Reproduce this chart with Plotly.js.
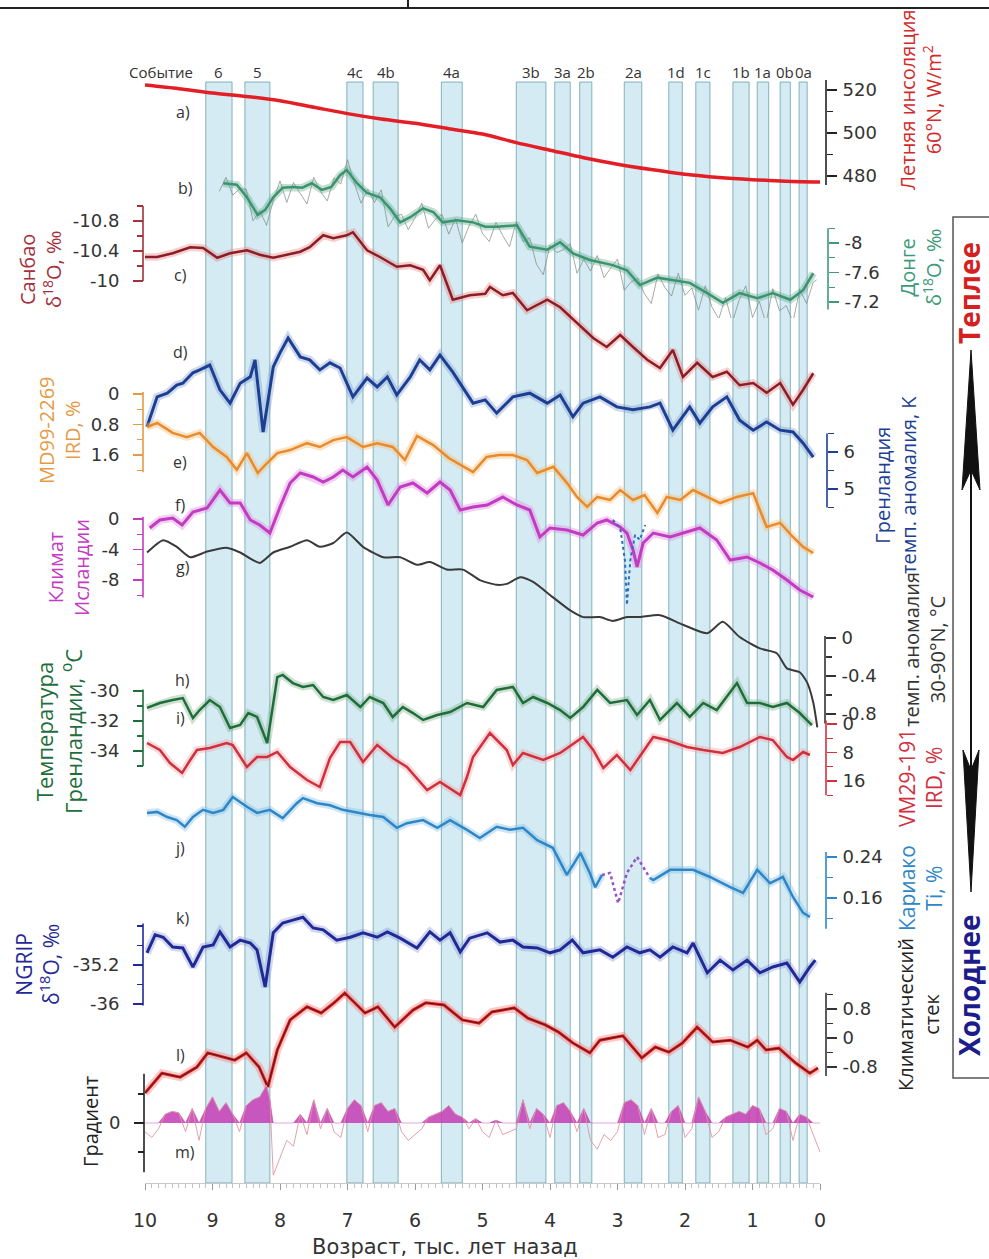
<!DOCTYPE html>
<html><head><meta charset="utf-8">
<script src="https://cdn.plot.ly/plotly-3.0.1.min.js"></script>
<style>html,body{margin:0;padding:0;background:#fff;}#chart{width:989px;height:1259px;}</style>
</head><body><div id="chart"></div>
<script>
// ---------------- DATA ----------------
const eventLabels = ['6','5','4c','4b','4a','3b','3a','2b','2a','1d','1c','1b','1a','0b','0a'];
const eventStart  = [9.10,8.52,7.01,6.62,5.61,4.50,3.93,3.56,2.90,2.24,1.84,1.29,0.93,0.59,0.31];
const eventEnd    = [8.71,8.15,6.77,6.25,5.30,4.06,3.70,3.38,2.64,2.04,1.63,1.05,0.76,0.44,0.19];

const ageA = [10,9.5,9,8.5,8,7.5,7,6.5,6,5.5,5,4.5,4,3.5,3,2.5,2,1.5,1,0.5,0];
const insolation = [522.3,520.6,518.6,517,515,512,509,506.5,504.5,502,499.5,495.5,492,488.5,485.5,483,480.8,479.3,478.3,477.6,477.2];

const ageB = [8.84,8.64,8.49,8.33,8.22,8.10,7.96,7.81,7.67,7.53,7.38,7.24,7.11,7.01,6.86,6.71,6.52,6.37,6.22,6.07,5.88,5.73,5.59,5.38,5.14,4.96,4.79,4.49,4.30,4.04,3.85,3.66,3.41,3.07,2.86,2.67,2.41,2.18,1.93,1.67,1.44,1.19,0.93,0.70,0.44,0.25,0.10];
const dongge = [-8.81,-8.79,-8.62,-8.38,-8.45,-8.62,-8.75,-8.76,-8.75,-8.81,-8.72,-8.76,-8.92,-8.99,-8.81,-8.68,-8.62,-8.47,-8.28,-8.35,-8.47,-8.42,-8.28,-8.31,-8.28,-8.22,-8.22,-8.24,-7.95,-7.91,-8.01,-7.86,-7.77,-7.70,-7.63,-7.43,-7.53,-7.50,-7.46,-7.32,-7.19,-7.32,-7.25,-7.32,-7.23,-7.36,-7.59];
const ageBraw = [8.9,8.8,8.7,8.6,8.5,8.4,8.3,8.2,8.1,8.0,7.9,7.8,7.7,7.6,7.5,7.4,7.3,7.2,7.1,7.0,6.9,6.8,6.7,6.6,6.5,6.4,6.3,6.2,6.1,6.0,5.9,5.8,5.7,5.6,5.5,5.4,5.3,5.2,5.1,5.0,4.9,4.8,4.7,4.6,4.5,4.4,4.3,4.2,4.1,4.0,3.9,3.8,3.7,3.6,3.5,3.4,3.3,3.2,3.1,3.0,2.9,2.8,2.7,2.6,2.5,2.4,2.3,2.2,2.1,2.0,1.9,1.8,1.7,1.6,1.5,1.4,1.3,1.2,1.1,1.0,0.9,0.8,0.7,0.6,0.5,0.4,0.3,0.2,0.1,0.05];
const donggeRaw = [-8.70,-8.89,-8.65,-8.73,-8.73,-8.30,-8.44,-8.24,-8.57,-8.84,-8.55,-8.82,-8.67,-8.53,-8.89,-8.70,-8.57,-8.88,-8.80,-9.13,-8.81,-8.54,-8.73,-8.55,-8.72,-8.22,-8.36,-8.39,-8.18,-8.34,-8.54,-8.20,-8.32,-8.39,-8.12,-8.33,-8.00,-8.23,-8.39,-8.13,-8.02,-8.28,-8.10,-7.95,-8.29,-8.02,-8.07,-7.71,-7.57,-7.97,-7.87,-7.91,-7.99,-7.59,-7.78,-7.62,-7.83,-7.53,-7.66,-7.78,-7.36,-7.47,-7.52,-7.31,-7.18,-7.58,-7.40,-7.28,-7.59,-7.29,-7.39,-7.09,-7.42,-7.13,-6.97,-7.26,-6.92,-7.22,-7.42,-6.99,-7.21,-6.91,-7.38,-7.08,-7.15,-6.93,-7.37,-7.18,-7.47,-7.50];

const ageC = [10.0,9.82,9.59,9.33,9.14,8.93,8.74,8.49,8.30,8.10,7.90,7.70,7.56,7.36,7.21,7.01,6.92,6.71,6.52,6.27,6.07,5.88,5.78,5.63,5.44,5.19,4.96,4.89,4.70,4.55,4.34,4.04,3.85,3.60,3.36,3.16,2.96,2.77,2.56,2.37,2.18,2.03,1.82,1.59,1.38,1.19,0.99,0.79,0.59,0.40,0.25,0.10];
const sanbao = [-10.32,-10.32,-10.37,-10.45,-10.44,-10.31,-10.37,-10.41,-10.35,-10.31,-10.35,-10.39,-10.45,-10.61,-10.57,-10.61,-10.65,-10.41,-10.32,-10.19,-10.21,-10.15,-10.01,-10.21,-9.75,-9.81,-9.83,-9.92,-9.81,-9.84,-9.61,-9.75,-9.65,-9.44,-9.24,-9.12,-9.28,-9.12,-8.95,-8.84,-9.08,-8.72,-8.91,-8.72,-8.79,-8.61,-8.64,-8.51,-8.64,-8.35,-8.55,-8.77];

const ageD = [9.97,9.82,9.67,9.53,9.44,9.29,9.19,9.04,8.89,8.74,8.59,8.44,8.37,8.25,8.10,8.00,7.88,7.70,7.56,7.41,7.26,7.11,6.92,6.71,6.56,6.41,6.27,6.07,5.93,5.78,5.63,5.44,5.14,4.96,4.79,4.55,4.30,4.04,3.85,3.66,3.51,3.26,3.01,2.77,2.52,2.37,2.18,1.93,1.78,1.59,1.38,1.19,0.99,0.79,0.59,0.40,0.25,0.10];
const greenlandK = [6.68,7.49,7.59,7.81,7.86,8.14,8.22,8.35,7.68,7.32,7.86,8.03,8.49,6.54,8.30,8.68,9.08,8.57,8.49,8.22,8.41,8.27,7.49,8.00,7.76,8.03,7.54,8.03,8.49,8.22,8.62,8.16,7.32,7.41,7.05,7.49,7.59,7.32,7.54,6.95,7.32,7.49,7.22,7.14,7.22,7.32,6.59,7.22,6.78,7.22,7.49,6.86,6.59,6.81,6.59,6.54,6.24,5.86];

const ageE = [9.97,9.82,9.59,9.38,9.19,8.99,8.79,8.64,8.49,8.33,8.19,8.04,7.85,7.60,7.41,7.21,7.01,6.77,6.56,6.33,6.15,5.97,5.73,5.50,5.14,4.94,4.75,4.55,4.34,4.19,3.95,3.75,3.60,3.45,3.30,3.11,2.96,2.77,2.60,2.41,2.27,2.07,1.88,1.67,1.48,1.23,0.99,0.79,0.59,0.40,0.25,0.10];
const ird2269 = [0.87,0.76,1.02,1.13,1.02,1.39,1.65,1.99,1.55,2.07,1.81,1.55,1.47,1.29,1.39,1.21,1.13,1.39,1.29,1.39,1.73,1.10,1.34,1.68,2.05,1.65,1.60,1.60,1.73,2.07,1.91,2.33,2.70,2.96,2.70,2.78,2.52,2.78,2.65,3.12,2.70,2.78,2.52,2.70,2.86,2.70,2.60,3.49,3.38,3.75,4.01,4.17];

const ageF = [9.93,9.78,9.59,9.45,9.29,9.08,8.89,8.74,8.59,8.44,8.30,8.15,8.00,7.85,7.70,7.51,7.36,7.21,7.07,6.92,6.71,6.56,6.40,6.22,6.03,5.82,5.63,5.48,5.33,5.14,4.93,4.70,4.49,4.30,4.15,4.00,3.75,3.51,3.30,3.16,2.96,2.86,2.77,2.71,2.62,2.47,2.22,1.97,1.78,1.53,1.33,1.08,0.89,0.70,0.49,0.30,0.10];
const iceland = [-1.18,-0.13,0.13,-0.79,0.92,1.44,3.80,2.10,2.10,-0.13,-0.79,-1.84,1.57,4.72,6.03,5.51,4.85,5.51,6.42,5.51,6.82,5.11,1.84,4.20,4.72,3.41,4.85,3.80,1.18,1.57,1.84,2.88,1.84,1.18,-2.36,-1.18,-1.44,-2.10,-0.52,-0.13,-1.05,-1.84,-4.06,-6.29,-3.15,-1.84,-2.36,-1.70,-1.18,-2.75,-5.38,-4.98,-5.77,-6.69,-8.00,-9.31,-10.23];
const ageF2 = [3.07,2.96,2.89,2.86,2.81,2.74,2.67,2.59];
const iceland2 = [-0.13,-1.18,-5.38,-11.27,-5.38,-2.10,-2.75,-0.79];

const ageG = [9.97,9.73,9.53,9.33,9.08,8.79,8.59,8.30,8.10,7.85,7.60,7.41,7.21,7.01,6.77,6.47,6.22,5.97,5.78,5.53,5.29,5.04,4.79,4.64,4.44,4.25,3.96,3.70,3.51,3.26,3.07,2.86,2.67,2.37,2.03,1.67,1.44,1.19,0.89,0.64,0.49,0.30,0.19,0.10,0.04];
const nhTemp = [0.90,1.03,0.96,0.85,0.91,0.95,0.90,0.79,0.90,0.96,1.03,0.96,1.00,1.11,0.96,0.85,0.85,0.77,0.80,0.72,0.72,0.61,0.56,0.57,0.64,0.59,0.43,0.29,0.22,0.22,0.18,0.22,0.22,0.24,0.14,0.05,0.17,0.01,-0.11,-0.16,-0.32,-0.36,-0.47,-0.68,-0.94];

const ageH = [9.97,9.78,9.59,9.44,9.29,9.19,9.04,8.89,8.74,8.59,8.47,8.34,8.19,8.04,7.96,7.81,7.66,7.51,7.36,7.21,7.01,6.81,6.67,6.47,6.33,6.18,6.03,5.88,5.67,5.48,5.23,4.99,4.79,4.55,4.40,4.25,4.04,3.85,3.70,3.51,3.30,3.11,2.86,2.71,2.52,2.37,2.12,1.93,1.73,1.53,1.23,1.08,0.89,0.70,0.49,0.30,0.12];
const greenlandT = [-31.13,-30.80,-30.60,-30.47,-31.80,-31.27,-30.60,-31.07,-32.47,-32.27,-31.47,-31.73,-33.47,-29.07,-28.93,-29.47,-29.73,-29.60,-30.40,-30.60,-30.27,-31.07,-30.40,-30.80,-31.73,-31.07,-31.47,-31.93,-31.60,-31.40,-30.80,-31.07,-29.93,-29.73,-30.80,-30.40,-30.80,-31.27,-31.80,-31.07,-29.93,-30.80,-30.60,-31.60,-30.60,-31.93,-30.80,-31.73,-30.80,-31.27,-29.47,-30.80,-30.80,-31.07,-30.80,-31.47,-32.27];

const ageI = [9.97,9.78,9.63,9.45,9.33,9.23,9.04,8.79,8.70,8.49,8.34,8.19,8.04,7.85,7.60,7.41,7.26,7.11,6.96,6.77,6.56,6.33,6.12,5.82,5.63,5.33,5.23,5.14,4.89,4.64,4.55,4.40,4.10,3.85,3.51,3.36,3.21,3.01,2.81,2.47,2.27,1.97,1.73,1.44,1.19,0.89,0.70,0.49,0.40,0.25,0.15];
const ird191 = [5.33,7.30,10.95,13.75,10.11,7.30,6.74,5.33,5.89,12.07,9.26,9.26,7.86,12.07,15.72,17.68,9.54,5.05,5.05,10.67,5.89,9.54,12.07,18.53,16.28,19.93,14.88,9.26,2.53,7.30,11.51,8.14,10.11,8.14,3.65,7.30,12.35,8.70,12.91,3.65,4.49,6.46,7.30,8.14,6.46,3.65,4.49,9.26,10.11,7.86,8.70];

const ageJ = [9.97,9.82,9.67,9.53,9.41,9.29,9.14,8.99,8.84,8.70,8.49,8.34,8.15,7.96,7.75,7.66,7.45,7.26,7.07,6.86,6.67,6.47,6.27,6.12,5.88,5.67,5.48,5.23,5.04,4.79,4.59,4.40,4.19,3.96,3.75,3.66,3.55,3.41,3.33,3.23];
const cariaco = [0.326,0.328,0.318,0.312,0.299,0.318,0.332,0.326,0.332,0.357,0.338,0.326,0.332,0.316,0.345,0.355,0.345,0.341,0.332,0.326,0.322,0.318,0.297,0.306,0.312,0.297,0.312,0.293,0.277,0.299,0.293,0.297,0.273,0.258,0.205,0.224,0.248,0.209,0.181,0.205];
const ageJp = [3.23,3.11,2.99,2.86,2.71,2.62,2.52];
const cariacoAlt = [0.205,0.209,0.150,0.209,0.240,0.220,0.199];
const ageJ2 = [2.52,2.47,2.22,1.88,1.63,1.33,1.14,0.93,0.74,0.55,0.40,0.25,0.15];
const cariaco2 = [0.199,0.195,0.215,0.215,0.201,0.181,0.170,0.215,0.189,0.201,0.162,0.131,0.123];

const ageK = [9.97,9.85,9.73,9.59,9.44,9.29,9.14,8.99,8.89,8.74,8.59,8.44,8.34,8.22,8.10,7.96,7.81,7.66,7.51,7.36,7.16,6.96,6.77,6.56,6.41,6.22,5.97,5.78,5.63,5.48,5.33,5.19,4.93,4.74,4.55,4.40,4.19,4.00,3.85,3.67,3.51,3.26,3.07,2.86,2.67,2.52,2.37,2.18,1.97,1.88,1.67,1.48,1.29,1.08,0.89,0.70,0.49,0.30,0.15,0.07];
const ngrip = [-34.95,-34.58,-34.63,-34.83,-34.85,-35.24,-34.83,-34.79,-34.52,-34.83,-34.69,-34.75,-34.89,-35.65,-34.54,-34.34,-34.28,-34.22,-34.44,-34.48,-34.69,-34.63,-34.54,-34.63,-34.52,-34.65,-34.85,-34.52,-34.69,-34.54,-34.93,-34.65,-34.54,-34.73,-34.69,-34.83,-34.85,-34.95,-34.89,-34.69,-34.95,-34.89,-35.04,-34.83,-34.95,-34.89,-35.04,-34.83,-34.95,-34.75,-35.36,-35.10,-35.30,-35.10,-35.36,-35.24,-35.16,-35.55,-35.24,-35.10];

const ageL = [10.0,9.75,9.48,9.23,9.07,8.83,8.67,8.50,8.31,8.18,8.04,7.85,7.60,7.39,7.20,7.04,6.74,6.55,6.30,6.03,5.84,5.57,5.30,5.05,4.86,4.53,4.33,4.07,3.88,3.66,3.41,3.26,2.92,2.64,2.44,2.24,2.04,1.82,1.59,1.33,1.07,0.93,0.80,0.61,0.36,0.15,0.03];
const climStack = [-1.52,-0.97,-1.08,-0.80,-0.41,-0.52,-0.61,-0.41,-0.80,-1.35,-0.33,0.50,0.86,0.69,0.97,1.24,0.69,0.86,0.30,0.77,0.97,0.91,0.50,0.41,0.72,0.83,0.55,0.36,0.17,-0.14,-0.41,-0.06,0.06,-0.55,-0.25,-0.39,-0.14,0.30,-0.11,-0.06,-0.25,-0.06,-0.33,-0.28,-0.69,-0.97,-0.83];

const ageM = [10.0,9.9,9.8,9.7,9.6,9.5,9.4,9.3,9.2,9.1,9.0,8.9,8.8,8.7,8.6,8.5,8.4,8.3,8.2,8.15,8.1,8.0,7.9,7.8,7.7,7.6,7.5,7.4,7.3,7.2,7.1,7.0,6.9,6.8,6.7,6.6,6.5,6.4,6.3,6.2,6.1,6.0,5.9,5.8,5.7,5.6,5.5,5.4,5.3,5.2,5.1,5.0,4.9,4.8,4.7,4.6,4.5,4.4,4.3,4.2,4.1,4.0,3.9,3.8,3.7,3.6,3.5,3.4,3.3,3.2,3.1,3.0,2.9,2.8,2.7,2.6,2.5,2.4,2.3,2.2,2.1,2.0,1.9,1.8,1.7,1.6,1.5,1.4,1.3,1.2,1.1,1.0,0.9,0.8,0.7,0.6,0.5,0.4,0.3,0.2,0.1,0.0];
const gradient = [-0.3,-0.5,-0.2,0.3,0.4,0.35,-0.3,0.5,-0.6,0.5,0.9,0.4,0.7,0.3,-0.3,0.6,0.8,0.9,1.3,0.8,-1.8,-1.2,-0.6,-0.8,0.3,-0.4,0.8,-0.2,0.5,-0.3,-0.5,0.5,0.8,0.6,-0.3,0.6,0.7,0.4,0.5,-0.3,-0.6,-0.4,-0.2,0.2,0.3,0.4,0.6,0.3,0.2,-0.2,0.15,-0.3,-0.5,0.1,-0.4,-0.3,-0.2,0.8,-0.2,0.5,0.3,-0.5,0.6,0.7,0.4,-0.3,0.5,-0.6,-0.9,-0.4,-0.6,-0.3,0.7,0.8,0.6,-0.4,0.5,-0.5,-0.4,0.4,0.6,-0.5,-0.2,0.9,0.4,-0.5,-0.3,0.2,0.3,0.4,0.3,0.6,0.5,-0.4,-0.2,0.5,0.4,-0.6,0.3,0.2,-0.4,-1.0];

const xTickVals = [10,9,8,7,6,5,4,3,2,1,0];

// ---------------- LAYOUT HELPERS ----------------
const W = 989, H = 1259;
const px = x => x / W;
const py = y => 1 - y / H;
const FONT = 'Open Sans, Noto Sans, sans-serif';
const WIDE = 'DejaVu Sans, sans-serif';

const axDefs = [
  {k:'',   p:[90,520,176,480],      dom:[72,190],   side:'right', x:826, c:'#222',    major:[520,500,480], minor:[510,490], line:[475.8,524.6]},
  {k:'2',  p:[243,-8,302,-7.2],     dom:[150,318],  side:'right', x:828, c:'#3d9a78', major:[-8,-7.6,-7.2], minor:[-8.2,-7.8,-7.4], line:[-8.2,-7.1]},
  {k:'3',  p:[221,-10.8,281,-10],   dom:[200,415],  side:'left',  x:143, c:'#a3303a', major:[-10.8,-10.4,-10], minor:[-11,-10.6,-10.2], line:[-11,-10]},
  {k:'4',  p:[452,6,489,5],         dom:[320,512],  side:'right', x:827, c:'#1c3f94', major:[6,5], minor:[6.5,5.5,4.5], line:[6.5,4.5]},
  {k:'5',  p:[394,0,455,1.6],       dom:[385,560],  side:'left',  x:143, c:'#e59a45', major:[0,0.8,1.6], minor:[0.4,1.2,2.0], line:[-0.05,2.05]},
  {k:'6',  p:[519,0,580,-8],        dom:[455,615],  side:'left',  x:143, c:'#c23bc2', major:[0,-4,-8], minor:[-2,-6,-10], line:[0.3,-10.3]},
  {k:'7',  p:[638,0,714,-0.8],      dom:[520,735],  side:'right', x:825, c:'#333',    major:[0,-0.4,-0.8], minor:[-0.2,-0.6], line:[0.02,-0.9]},
  {k:'8',  p:[691,-30,751,-34],     dom:[655,770],  side:'left',  x:143, c:'#1e6e3c', major:[-30,-32,-34], minor:[-31,-33,-35], line:[-29.9,-35]},
  {k:'9',  p:[724,0,781,16],        dom:[715,805],  side:'right', x:826, c:'#d03040', major:[0,8,16], minor:[4,12,20], line:[-1,20]},
  {k:'10', p:[857,0.24,898,0.16],   dom:[785,935],  side:'right', x:826, c:'#2f86c6', major:[0.24,0.16], minor:[0.20,0.12], line:[0.25,0.10]},
  {k:'11', p:[965,-35.2,1004,-36],  dom:[900,1010], side:'left',  x:143, c:'#1f2a96', major:[-35.2,-36], minor:[-34.4,-34.8,-35.6], line:[-34.35,-36.03]},
  {k:'12', p:[1009,0.8,1067,-0.8],  dom:[985,1100], side:'right', x:826, c:'#333',    major:[0.8,0,-0.8], minor:[1.2,0.4,-0.4], line:[1.25,-1.05]},
  {k:'13', p:[1123,0,1152,-1],      dom:[1065,1185],side:'left',  x:144, c:'#222',    major:[0], minor:[1,-1], line:[1.7,-1.7]}
];

const layout = {
  width: W, height: H, margin:{l:0,r:0,t:0,b:0},
  paper_bgcolor:'#fff', plot_bgcolor:'rgba(0,0,0,0)', showlegend:false,
  font:{family:FONT, color:'#333'},
  xaxis:{domain:[px(145),px(820)], range:[10,0], anchor:'free', position:py(1183),
    showline:true, linecolor:'#c8c8c8', linewidth:1, ticks:'outside', ticklen:6, tickcolor:'#999',
    tickmode:'array', tickvals:xTickVals, ticktext:xTickVals.map(String),
    minor:{ticks:'outside', dtick:0.1, tick0:0, ticklen:4, tickcolor:'#c0c0c0'},
    tickfont:{size:19, color:'#333', family:WIDE}, ticklabelstandoff:14,
    showgrid:false, zeroline:false, automargin:false},
  shapes:[], annotations:[]
};

axDefs.forEach(a => {
  const s = (a.p[3]-a.p[1])/(a.p[2]-a.p[0]);
  const vAt = p => a.p[1] + (p - a.p[0])*s;
  layout['yaxis'+a.k] = {
    domain:[py(a.dom[1]), py(a.dom[0])], range:[vAt(a.dom[1]), vAt(a.dom[0])],
    anchor:'free', position:px(a.x), side:a.side, showline:false, showgrid:false, zeroline:false,
    ticks:'outside', ticklen:10, tickwidth:1.3, tickcolor:a.c,
    tickmode:'array', tickvals:a.major, ticktext:a.major.map(v=>String(v)),
    minor:{tickmode:'array', tickvals:a.minor, ticks:'outside', ticklen:6, tickwidth:1.2, tickcolor:a.c},
    tickfont:{size:18, color:'#333', family:WIDE}, ticklabelstandoff:(a.side==='left'?10:2), automargin:false
  };
  layout.shapes.push({type:'line', xref:'paper', yref:'y'+a.k, x0:px(a.x), x1:px(a.x), y0:a.line[0], y1:a.line[1], line:{color:a.c, width:1.6}});
});

eventLabels.forEach((lab,i) => {
  layout.shapes.push({type:'rect', layer:'below', xref:'x', yref:'paper', x0:eventStart[i], x1:eventEnd[i], y0:py(1183), y1:py(82),
    fillcolor:'rgba(160,210,228,0.45)', line:{color:'rgba(90,150,165,0.7)', width:1}});
  layout.annotations.push({xref:'x', yref:'paper', x:(eventStart[i]+eventEnd[i])/2, y:py(72), text:lab, showarrow:false,
    font:{size:15, color:'#333', family:FONT}, xanchor:'center', yanchor:'middle'});
});
layout.annotations.push({xref:'paper', yref:'paper', x:px(161), y:py(72), text:'Событие', showarrow:false,
  font:{size:15,color:'#333',family:FONT}, xanchor:'center', yanchor:'middle'});

layout.shapes.push({type:'line', xref:'paper', yref:'paper', x0:0, x1:1, y0:py(8), y1:py(8), line:{color:'#222', width:2}});
layout.shapes.push({type:'line', xref:'paper', yref:'paper', x0:px(408), x1:px(408), y0:py(0), y1:py(8), line:{color:'#222', width:2}});

layout.shapes.push({type:'rect', xref:'paper', yref:'paper', x0:px(953), x1:px(1000), y0:py(1078), y1:py(217), line:{color:'#555', width:1.5}, fillcolor:'rgba(0,0,0,0)'});
layout.shapes.push({type:'line', xref:'paper', yref:'paper', x0:px(971), x1:px(971), y0:py(365), y1:py(875), line:{color:'#111', width:2}});
const P = (x,y) => px(x).toFixed(5)+','+py(y).toFixed(5);
layout.shapes.push({type:'path', xref:'paper', yref:'paper', path:'M'+P(971,350)+' L'+P(962,490)+' L'+P(971,470)+' L'+P(980,490)+' Z', fillcolor:'#111', line:{color:'#111', width:1}});
layout.shapes.push({type:'path', xref:'paper', yref:'paper', path:'M'+P(971,892)+' L'+P(963,750)+' L'+P(971,770)+' L'+P(979,750)+' Z', fillcolor:'#111', line:{color:'#111', width:1}});

function ann(text, x, y, color, size) {
  layout.annotations.push({xref:'paper', yref:'paper', x:px(x), y:py(y), text:text, showarrow:false,
    textangle:-90, font:{size:size, color:color, family:FONT}, xanchor:'center', yanchor:'middle', align:'center'});
}
ann('Летняя инсоляция<br>60°N, W/m<sup>2</sup>', 920, 100, '#d42a2a', 20);
ann('Донге<br>δ<sup>18</sup>O, ‰', 920, 268, '#3d9a78', 20);
ann('Санбао<br>δ<sup>18</sup>O, ‰', 40, 270, '#a3303a', 20);
ann('Гренландия<br>темп. аномалия, K', 895, 485, '#1c3f94', 20);
ann('MD99-2269<br>IRD, %', 60, 430, '#e59a45', 20);
ann('Климат<br>Исландии', 68, 568, '#c23bc2', 20);
ann('темп. аномалия<br>30-90°N, °C', 924, 650, '#333', 20);
ann('Температура<br>Гренландии, <sup>о</sup>C', 58, 732, '#1e6e3c', 22);
ann('VM29-191<br>IRD, %', 920, 778, '#d03040', 21);
ann('Кариако<br>Ti, %', 920, 888, '#2f86c6', 21);
ann('NGRIP<br>δ<sup>18</sup>O, ‰', 37, 965, '#1f2a96', 21);
ann('Климатический<br>стек', 918, 1015, '#222', 20);
ann('Градиент', 90, 1122, '#222', 20);
ann('<b>Теплее</b>', 969, 293, '#d42020', 28);
ann('<b>Холоднее</b>', 969, 985, '#1c1c8c', 28);
layout.annotations.push({xref:'paper', yref:'paper', x:px(445), y:py(1247), text:'Возраст, тыс. лет назад', showarrow:false,
  font:{size:21, color:'#333', family:WIDE}, xanchor:'center', yanchor:'middle'});
[['a)',183,112],['b)',185,188],['c)',180,275],['d)',180,352],['e)',180,462],['f)',180,505],['g)',183,567],
 ['h)',182,680],['i)',180,718],['j)',180,848],['k)',182,918],['l)',180,1055],['m)',185,1152]].forEach(t=>{
  layout.annotations.push({xref:'paper', yref:'paper', x:px(t[1]), y:py(t[2]), text:t[0], showarrow:false,
    font:{size:16, color:'#333', family:FONT}, xanchor:'center', yanchor:'middle'});
});

// ---------------- TRACES ----------------
const traces = [];
function addLine(x, y, yax, color, width, opts) {
  opts = opts || {};
  if (opts.halo) traces.push({type:'scatter', mode:'lines', x:x, y:y, xaxis:'x', yaxis:yax, hoverinfo:'skip',
    line:{color:opts.halo, width:width+5, shape:opts.shape||'linear', smoothing:opts.smoothing||0}});
  traces.push({type:'scatter', mode:'lines', x:x, y:y, xaxis:'x', yaxis:yax, hoverinfo:'skip',
    line:{color:color, width:width, dash:opts.dash||'solid', shape:opts.shape||'linear', smoothing:opts.smoothing||0}});
}
addLine(ageA, insolation, 'y', '#e31e25', 3.5, {shape:'spline', smoothing:0.8});
addLine(ageBraw, donggeRaw, 'y2', 'rgba(125,135,125,0.7)', 1);
addLine(ageB, dongge, 'y2', '#3a9470', 2.5, {halo:'rgba(90,160,130,0.35)'});
addLine(ageC, sanbao, 'y3', '#8c1d24', 2.5, {halo:'rgba(230,120,120,0.35)'});
addLine(ageD, greenlandK, 'y4', '#1c3f94', 3, {halo:'rgba(120,150,200,0.35)'});
addLine(ageE, ird2269, 'y5', '#e98a2c', 2.5, {halo:'rgba(245,190,120,0.4)'});
addLine(ageF, iceland, 'y6', '#c23bc2', 3, {halo:'rgba(220,140,220,0.4)'});
addLine(ageF2, iceland2, 'y6', '#2a6fbf', 2, {dash:'dot'});
addLine(ageG, nhTemp, 'y7', '#3a3a3a', 2, {shape:'spline', smoothing:0.6});
addLine(ageH, greenlandT, 'y8', '#1e6e3c', 2.5, {halo:'rgba(120,170,130,0.35)'});
addLine(ageI, ird191, 'y9', '#cf2f3e', 2.5, {halo:'rgba(240,150,150,0.35)'});
addLine(ageJ, cariaco, 'y10', '#2f86c6', 2.5, {halo:'rgba(130,190,230,0.4)'});
addLine(ageJp, cariacoAlt, 'y10', '#9b4fc8', 2.5, {dash:'dot'});
addLine(ageJ2, cariaco2, 'y10', '#2f86c6', 2.5, {halo:'rgba(130,190,230,0.4)'});
addLine(ageK, ngrip, 'y11', '#1f2a96', 3, {halo:'rgba(130,140,210,0.35)'});
addLine(ageL, climStack, 'y12', '#d42020', 3, {halo:'rgba(250,120,120,0.4)'});
addLine(ageL, climStack, 'y12', '#5a1212', 1);
traces.push({type:'scatter', mode:'lines', x:ageM, y:gradient.map(v=>Math.max(v,0)), xaxis:'x', yaxis:'y13', hoverinfo:'skip',
  fill:'tozeroy', fillcolor:'rgba(196,60,180,0.85)', line:{color:'rgba(196,60,180,0.9)', width:0.5}});
addLine(ageM, gradient, 'y13', 'rgba(225,150,160,0.9)', 1);

Plotly.newPlot('chart', traces, layout, {staticPlot:true, displayModeBar:false});
</script></body></html>
